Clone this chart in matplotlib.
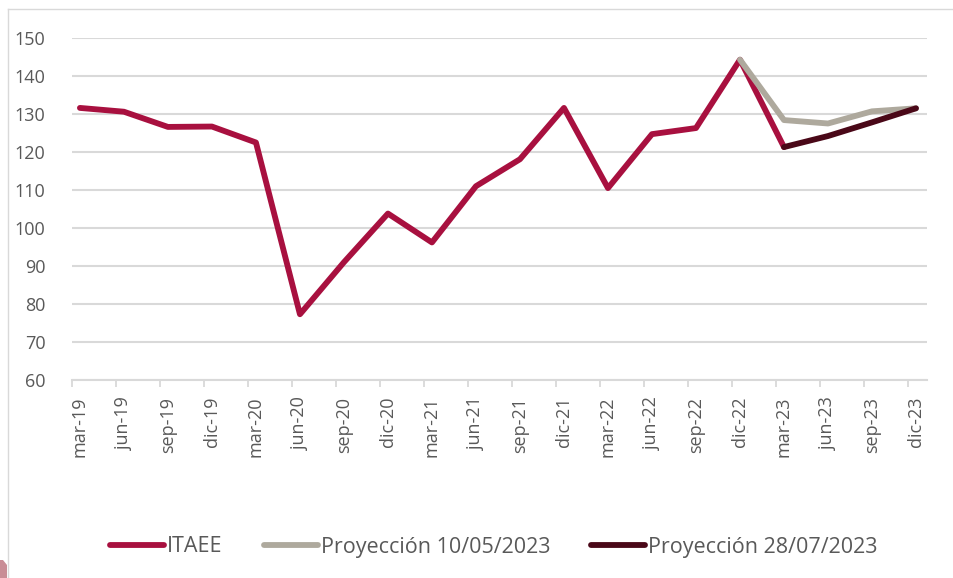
import matplotlib
matplotlib.use("Agg")
import matplotlib.pyplot as plt
from matplotlib.lines import Line2D
from matplotlib.patches import Polygon

# ---- data ----
categories = ["mar-19", "jun-19", "sep-19", "dic-19", "mar-20", "jun-20", "sep-20", "dic-20",
              "mar-21", "jun-21", "sep-21", "dic-21", "mar-22", "jun-22", "sep-22", "dic-22",
              "mar-23", "jun-23", "sep-23", "dic-23"]
itaee = [131.6, 130.6, 126.6, 126.7, 122.5, 77.3, 91.0, 103.8, 96.2, 111.0, 118.1, 131.6,
         110.5, 124.7, 126.3, 144.3, 121.3]
proy_1005 = [144.3, 128.4, 127.5, 130.7, 131.5]   # dic-22 .. dic-23
proy_2807 = [121.3, 124.2, 127.8, 131.5]          # mar-23 .. dic-23
yticks = [60, 70, 80, 90, 100, 110, 120, 130, 140, 150]

c_itaee = "#A8103F"
c_gray = "#AEA99D"
c_dark = "#4A0818"
txt = "#595959"
grid = "#D9D9D9"

plt.rcParams["font.family"] = ["Open Sans", "DejaVu Sans"]

W, H = 954, 578
fig = plt.figure(figsize=(W / 100, H / 100), dpi=100)
ax = fig.add_axes([72 / W, 1 - 380 / H, (927 - 72) / W, (380 - 38) / H])

x_itaee = list(range(len(itaee)))
x_p1 = list(range(15, 15 + len(proy_1005)))
x_p2 = list(range(16, 16 + len(proy_2807)))

lw = 4.2
ax.plot(x_itaee, itaee, color=c_itaee, lw=lw, solid_capstyle="round", solid_joinstyle="round", zorder=3)
ax.plot(x_p1, proy_1005, color=c_gray, lw=lw, solid_capstyle="round", solid_joinstyle="round", zorder=4)
ax.plot(x_p2, proy_2807, color=c_dark, lw=lw, solid_capstyle="round", solid_joinstyle="round", zorder=5)

off = 0.18
ax.set_xlim(-off, 19.25)
ax.set_ylim(60, 150)

ax.set_yticks(yticks)
ax.set_yticklabels([str(v) for v in yticks])
ax.tick_params(axis="y", length=0, pad=19, labelsize=13, labelcolor=txt)
ax.yaxis.grid(True, color=grid, lw=1.5)
ax.set_axisbelow(True)

ax.set_xticks(range(len(categories)))
ax.set_xticklabels(categories, rotation=90)
ax.tick_params(axis="x", which="major", length=0, pad=12, labelsize=13, labelcolor=txt)
ax.set_xticks([i - off for i in range(len(categories))], minor=True)
ax.tick_params(axis="x", which="minor", length=5, width=1.3, color=grid, direction="out")

for s in ["top", "right", "left"]:
    ax.spines[s].set_visible(False)
ax.spines["bottom"].set_color(grid)
ax.spines["bottom"].set_linewidth(1.5)

handles = [Line2D([], [], color=c_itaee, lw=4.2, solid_capstyle="round"),
           Line2D([], [], color=c_gray, lw=4.2, solid_capstyle="round"),
           Line2D([], [], color=c_dark, lw=4.2, solid_capstyle="round")]
labels = ["ITAEE", "Proyección 10/05/2023", "Proyección 28/07/2023"]
leg = fig.legend(handles, labels, loc="center", bbox_to_anchor=(494 / W, 1 - 547 / H),
                 ncol=3, frameon=False, fontsize=15.5, handlelength=2.5, handletextpad=0.15,
                 columnspacing=1.9, labelcolor=txt)

# figure frame
fig.add_artist(Line2D([8 / W, 1], [1 - 9 / H, 1 - 9 / H], transform=fig.transFigure, color=grid, lw=1))
fig.add_artist(Line2D([8 / W, 8 / W], [0, 1 - 9 / H], transform=fig.transFigure, color=grid, lw=1))
fig.add_artist(Polygon([(0, 1 - 560 / H), (3 / W, 1 - 560 / H), (7 / W, 1 - 565 / H), (7 / W, 0), (0, 0)],
                       closed=True, transform=fig.transFigure, color="#C98D96", lw=0))

fig.savefig("out.png", dpi=100, facecolor="white")
